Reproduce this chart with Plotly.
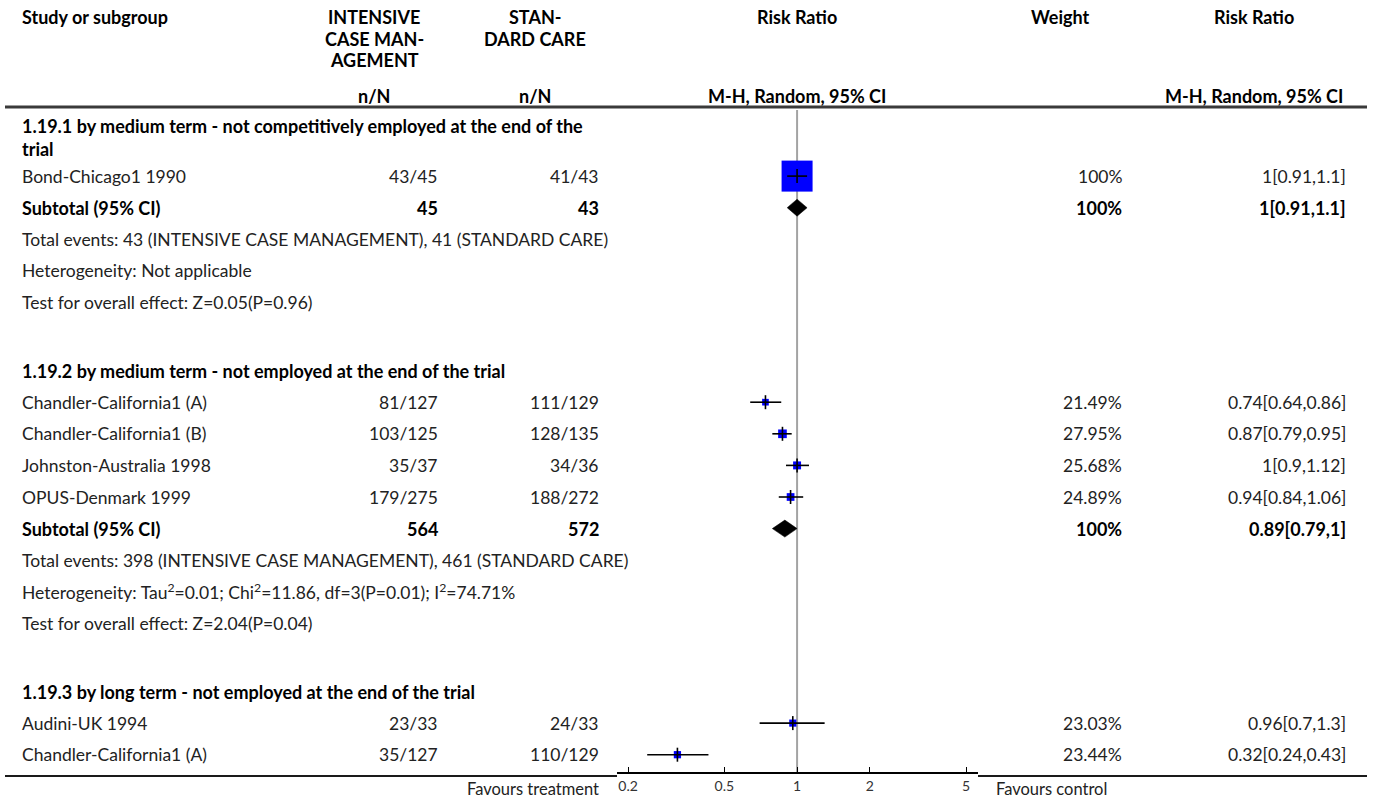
import math
import plotly.graph_objects as go

# ---------------------------------------------------------------- data
group_titles = [
    "1.19.1 by medium term - not competitively employed at the end of the<br>trial",
    "1.19.2 by medium term - not employed at the end of the trial",
    "1.19.3 by long term - not employed at the end of the trial",
]

study = [
    "Bond-Chicago1 1990",
    "Chandler-California1 (A)",
    "Chandler-California1 (B)",
    "Johnston-Australia 1998",
    "OPUS-Denmark 1999",
    "Audini-UK 1994",
    "Chandler-California1 (A)",
]
study_group = [0, 1, 1, 1, 1, 2, 2]
int_events = [43, 81, 103, 35, 179, 23, 35]
int_total = [45, 127, 125, 37, 275, 33, 127]
std_events = [41, 111, 128, 34, 188, 24, 110]
std_total = [43, 129, 135, 36, 272, 33, 129]
rr = [1, 0.74, 0.87, 1, 0.94, 0.96, 0.32]
rr_lo = [0.91, 0.64, 0.79, 0.9, 0.84, 0.7, 0.24]
rr_hi = [1.1, 0.86, 0.95, 1.12, 1.06, 1.3, 0.43]
weight = [100, 21.49, 27.95, 25.68, 24.89, 23.03, 23.44]

# subtotals (only the first two subgroups are complete)
sub_group = [0, 1]
sub_int_total = [45, 564]
sub_std_total = [43, 572]
sub_int_events = [43, 398]
sub_std_events = [41, 461]
sub_rr = [1, 0.89]
sub_lo = [0.91, 0.79]
sub_hi = [1.1, 1]
sub_weight = [100, 100]
heterogeneity = [
    "Heterogeneity: Not applicable",
    "Heterogeneity: Tau<sup>2</sup>=0.01; Chi<sup>2</sup>=11.86, df=3(P=0.01); I<sup>2</sup>=74.71%",
]
overall_effect = [
    "Test for overall effect: Z=0.05(P=0.96)",
    "Test for overall effect: Z=2.04(P=0.04)",
]

x_ticks = [0.2, 0.5, 1, 2, 5]
x_range = [0.18, 5.6]

# ---------------------------------------------------------------- layout constants
W, H = 1375, 801
FONT = "Lato"
FS = 17.5           # regular text
FB = 18             # bold text
TXT = "#222222"
BOLD = "#000000"

# column anchors (pixels)
X_STUDY = 21
X_INT = 439
X_STD = 600
X_INT_HEAD = 374
X_STD_HEAD = 535
X_W = 1123
X_W_HEAD = 1060
X_RR = 1347
X_RR_HEAD = 1254
AX_L, AX_R = 617, 978

ROW = 31.6          # row pitch
WRAP = 21.5         # line height for wrapped header text
GAP = 36.5          # blank space between subgroups
Y_FIRST = 126
Y_HEADLINE = 107
Y_BOTTOM = 776
Y_AXIS = 773
Y_FAVOURS = 789


def px(x):
    return x / W


def fmt(v):
    return f"{v:g}"


annotations = []


def text(x, y, s, anchor="left", bold=False, size=None, color=None):
    if bold:
        s = f"<b>{s}</b>"
    annotations.append(dict(
        x=px(x), y=y, xref="paper", yref="y", text=s, showarrow=False,
        xanchor=anchor, yanchor="middle", align=anchor if anchor != "center" else "center",
        borderpad=0,
        font=dict(family=FONT, size=size or (FB if bold else FS),
                  color=color or (BOLD if bold else TXT)),
    ))


# ---------------------------------------------------------------- column headers
text(X_STUDY, 17, "Study or subgroup", bold=True)
for i, line in enumerate(["INTENSIVE", "CASE MAN-", "AGEMENT"]):
    text(X_INT_HEAD, 17 + i * WRAP, line, anchor="center", bold=True)
for i, line in enumerate(["STAN-", "DARD CARE"]):
    text(X_STD_HEAD, 17 + i * WRAP, line, anchor="center", bold=True)
text(797, 17, "Risk Ratio", anchor="center", bold=True)
text(X_W_HEAD, 17, "Weight", anchor="center", bold=True)
text(X_RR_HEAD, 17, "Risk Ratio", anchor="center", bold=True)
text(X_INT_HEAD, 96, "n/N", anchor="center", bold=True)
text(X_STD_HEAD, 96, "n/N", anchor="center", bold=True)
text(797, 96, "M-H, Random, 95% CI", anchor="center", bold=True)
text(X_RR_HEAD, 96, "M-H, Random, 95% CI", anchor="center", bold=True)

# ---------------------------------------------------------------- rows
study_y = [None] * len(study)
sub_y = {}
y = Y_FIRST
for g, title in enumerate(group_titles):
    annotations.append(dict(
        x=px(X_STUDY), y=y - 12, xref="paper", yref="y", text=f"<b>{title}</b>",
        showarrow=False, xanchor="left", yanchor="top", align="left", borderpad=0,
        font=dict(family=FONT, size=FB, color=BOLD),
    ))
    y += ROW + title.count("<br>") * (WRAP - 3)
    for i, gi in enumerate(study_group):
        if gi != g:
            continue
        study_y[i] = y
        text(X_STUDY, y, study[i])
        text(X_INT, y, f"{int_events[i]}/{int_total[i]}", anchor="right")
        text(X_STD, y, f"{std_events[i]}/{std_total[i]}", anchor="right")
        text(X_W, y, f"{fmt(weight[i])}%", anchor="right")
        text(X_RR, y, f"{fmt(rr[i])}[{fmt(rr_lo[i])},{fmt(rr_hi[i])}]", anchor="right")
        y += ROW
    if g in sub_group:
        k = sub_group.index(g)
        sub_y[k] = y
        text(X_STUDY, y, "Subtotal (95% CI)", bold=True)
        text(X_INT, y, f"{sub_int_total[k]}", anchor="right", bold=True)
        text(X_STD, y, f"{sub_std_total[k]}", anchor="right", bold=True)
        text(X_W, y, f"{fmt(sub_weight[k])}%", anchor="right", bold=True)
        text(X_RR, y, f"{fmt(sub_rr[k])}[{fmt(sub_lo[k])},{fmt(sub_hi[k])}]",
             anchor="right", bold=True)
        y += ROW
        text(X_STUDY, y, f"Total events: {sub_int_events[k]} (INTENSIVE CASE MANAGEMENT), "
                         f"{sub_std_events[k]} (STANDARD CARE)")
        y += ROW
        text(X_STUDY, y, heterogeneity[k])
        y += ROW
        text(X_STUDY, y, overall_effect[k])
        y += ROW + GAP

# favours labels
text(600, Y_FAVOURS, "Favours treatment", anchor="right", size=16.5)
text(995, Y_FAVOURS, "Favours control", anchor="left", size=16.5)

# ---------------------------------------------------------------- forest marks
fig = go.Figure()

# line of no effect
fig.add_trace(go.Scatter(
    x=[1, 1], y=[Y_HEADLINE + 3, Y_AXIS], mode="lines",
    line=dict(color="#a3a3a3", width=2), hoverinfo="skip",
))

# weight squares
fig.add_trace(go.Scatter(
    x=rr, y=study_y, mode="markers",
    marker=dict(symbol="square", color="#0000ff", opacity=1,
                size=[31 * w / 100 for w in weight], line=dict(width=0)),
    hoverinfo="skip",
))

# confidence intervals
ci_x, ci_y = [], []
for lo, hi, yy in zip(rr_lo, rr_hi, study_y):
    ci_x += [lo, hi, None]
    ci_y += [yy, yy, None]
fig.add_trace(go.Scatter(
    x=ci_x, y=ci_y, mode="lines", line=dict(color="#000000", width=1.6),
    hoverinfo="skip",
))

# point-estimate ticks
fig.add_trace(go.Scatter(
    x=rr, y=study_y, mode="markers",
    marker=dict(symbol="line-ns", size=10, opacity=1,
                line=dict(color="#000000", width=1.6)),
    hoverinfo="skip",
))

# pooled diamonds
DH = 8.5
for k in range(len(sub_group)):
    yy = sub_y[k]
    fig.add_trace(go.Scatter(
        x=[sub_lo[k], sub_rr[k], sub_hi[k], sub_rr[k], sub_lo[k]],
        y=[yy, yy - DH, yy, yy + DH, yy],
        mode="lines", fill="toself", fillcolor="#000000",
        line=dict(color="#000000", width=0.5), hoverinfo="skip",
    ))

# ---------------------------------------------------------------- rules
shapes = [
    dict(type="line", xref="paper", yref="y", x0=px(5), x1=px(1367),
         y0=Y_HEADLINE, y1=Y_HEADLINE, line=dict(color="#3a3a3a", width=3)),
    dict(type="line", xref="paper", yref="y", x0=px(5), x1=px(AX_L),
         y0=Y_BOTTOM, y1=Y_BOTTOM, line=dict(color="#1a1a1a", width=1.8)),
    dict(type="line", xref="paper", yref="y", x0=px(AX_R), x1=px(1367),
         y0=Y_BOTTOM, y1=Y_BOTTOM, line=dict(color="#1a1a1a", width=1.8)),
]

fig.update_layout(
    width=W, height=H,
    margin=dict(l=0, r=0, t=0, b=0),
    paper_bgcolor="white", plot_bgcolor="rgba(0,0,0,0)",
    showlegend=False,
    annotations=annotations,
    shapes=shapes,
    xaxis=dict(
        type="log", domain=[px(AX_L), px(AX_R)],
        range=[math.log10(x_range[0]), math.log10(x_range[1])],
        anchor="free", position=(H - Y_AXIS) / H,
        showline=True, linecolor="#000000", linewidth=2,
        ticks="inside", ticklen=5, tickwidth=1.2, tickcolor="#000000",
        tickvals=x_ticks, ticktext=[fmt(v) for v in x_ticks],
        tickfont=dict(family=FONT, size=14, color="#333333"),
        showgrid=False, zeroline=False, fixedrange=True, automargin=False,
    ),
    yaxis=dict(
        range=[H, 0], domain=[0, 1], visible=False, fixedrange=True,
        automargin=False,
    ),
    font=dict(family=FONT, size=FS, color=TXT),
)

fig.write_html("out.html")
